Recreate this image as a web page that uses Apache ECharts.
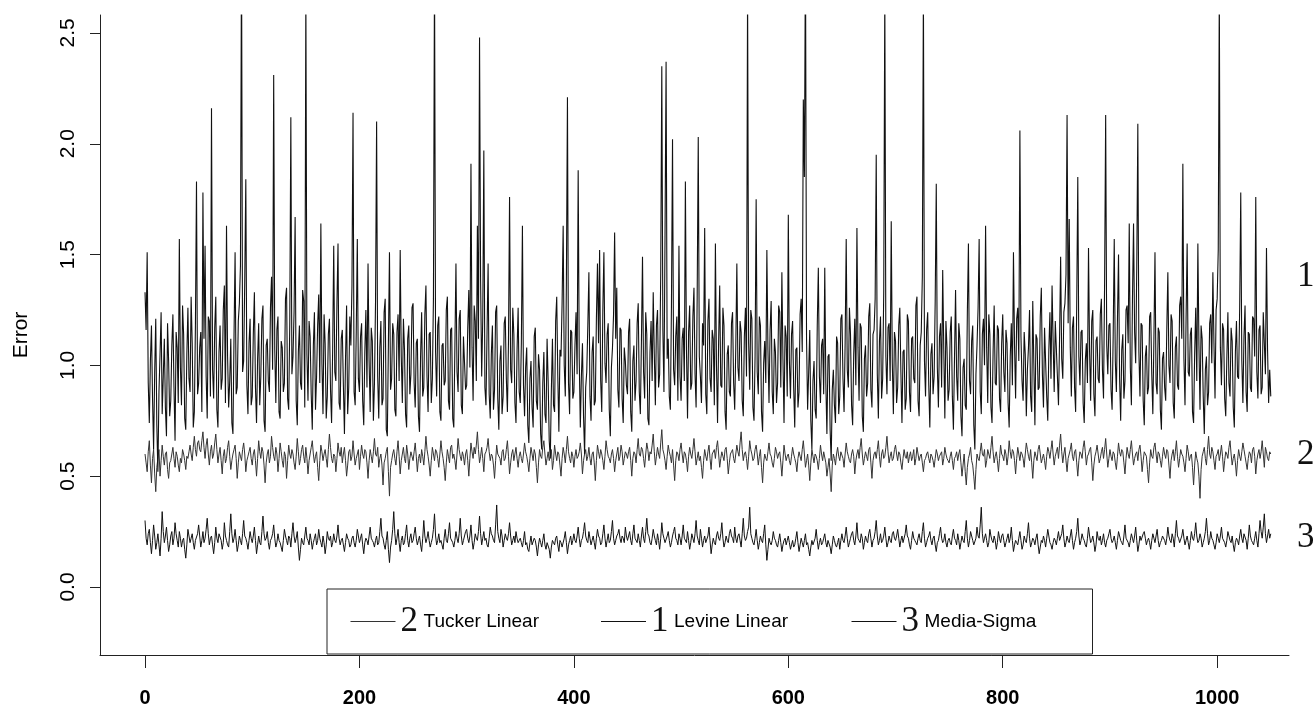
<!DOCTYPE html>
<html>
<head>
<meta charset="utf-8">
<script src="https://cdn.jsdelivr.net/npm/echarts@6/dist/echarts.min.js"></script>
<style>
html,body{margin:0;padding:0;background:#fff;}
#chart{width:1313px;height:708px;}
</style>
</head>
<body>
<div id="chart"></div>
<script>
// x positions: one observation per unit, starting at 0
const X_STEP = 1;
const xTicks = [0, 200, 400, 600, 800, 1000];
const yTicks = [0, 0.5, 1, 1.5, 2, 2.5];
const seriesNames = ['Tucker Linear', 'Levine Linear', 'Media-Sigma'];
const seriesNums = {'Tucker Linear': '2', 'Levine Linear': '1', 'Media-Sigma': '3'};

const levine = [
1.33,1.16,1.51,0.92,0.74,1.02,1.18,0.85,0.62,0.97,1.21,0.73,0.52,0.88,1.05,1.24,0.78,0.95,1.12,0.81,0.68,1.19,1.02,0.77,0.84,1.09,1.23,0.90,0.66,1.15,1.08,0.83,1.57,0.99,0.82,1.27,1.14,0.76,0.71,1.05,1.26,0.94,0.88,1.31,1.10,0.72,0.79,1.18,1.83,0.87,
0.92,1.08,1.15,0.79,1.78,1.12,1.54,0.95,0.76,1.22,1.20,0.86,2.16,0.98,0.85,1.17,1.31,0.80,0.72,1.06,1.18,0.89,0.94,1.25,1.36,0.83,1.63,1.04,0.81,0.93,1.12,0.74,0.69,1.13,1.51,0.87,0.90,1.20,1.28,1.45,2.90,0.97,1.02,1.38,1.84,0.91,0.78,1.10,1.21,0.82,
0.86,1.14,1.33,0.90,0.74,1.03,1.19,0.82,0.95,1.21,1.27,0.75,0.70,1.09,1.12,0.93,0.88,1.26,1.40,0.98,2.31,1.07,0.83,1.16,1.22,0.79,0.76,1.11,1.08,0.88,0.92,1.30,1.35,0.85,0.80,1.19,2.12,0.96,1.04,1.24,1.67,0.84,0.73,1.06,1.18,0.92,0.89,1.34,1.29,0.81,
2.70,1.05,0.84,1.20,1.13,0.87,0.71,1.09,1.24,0.80,0.95,1.18,1.32,0.92,1.64,1.01,0.78,1.23,1.10,0.76,0.86,1.14,1.21,0.89,0.74,1.07,1.54,0.97,0.93,1.28,1.55,0.83,0.80,1.12,1.16,0.91,0.69,1.03,1.27,0.78,0.90,1.22,1.09,1.36,2.14,0.88,0.82,1.15,1.57,0.94,
0.88,1.13,1.19,0.84,0.73,1.06,1.25,0.90,1.46,1.02,0.79,1.17,1.11,0.75,0.92,1.29,2.10,0.95,0.76,1.08,1.20,0.82,0.85,1.24,1.30,0.71,0.68,1.10,1.51,0.89,0.94,1.19,1.14,0.80,0.77,1.15,1.23,0.93,1.52,1.04,0.83,1.21,1.07,0.78,0.72,1.12,1.18,0.87,0.96,1.26,
1.28,0.92,0.81,1.10,1.12,0.77,0.70,1.04,1.24,0.86,0.90,1.23,1.36,0.95,0.79,1.14,1.15,0.83,0.94,1.30,2.80,1.06,0.86,1.18,1.22,0.79,0.75,1.09,1.10,0.91,0.93,1.25,1.31,0.84,0.80,1.16,1.17,0.76,0.72,1.08,1.46,0.97,0.88,1.21,1.25,0.82,0.78,1.13,1.13,0.89,
0.91,1.17,1.34,0.99,1.91,1.08,0.84,1.27,1.20,0.93,1.63,1.12,2.48,1.38,0.95,1.21,1.97,0.90,0.82,1.15,1.46,0.87,0.76,1.05,1.18,0.80,0.89,1.24,1.27,0.85,0.71,1.02,1.09,0.78,0.86,1.19,1.22,0.94,0.79,1.11,1.76,0.98,0.92,1.26,1.14,0.83,0.74,1.07,1.26,0.88,
0.83,1.10,1.63,0.91,0.77,0.99,1.08,0.73,0.65,0.94,1.02,0.81,0.72,1.13,1.17,0.84,0.80,1.05,0.98,0.69,0.62,0.92,1.06,0.78,0.74,1.12,0.93,0.66,0.58,0.89,1.12,0.82,0.79,1.20,1.31,0.95,0.70,1.07,1.04,1.28,1.63,1.00,0.86,1.37,2.21,0.92,0.78,1.16,1.15,0.85,
0.88,1.09,1.24,0.96,1.88,1.03,0.72,0.95,1.10,0.77,0.60,0.90,0.97,1.18,1.42,0.86,0.75,1.06,1.13,0.82,0.84,1.21,1.46,1.10,1.52,0.93,0.79,1.25,1.51,1.01,0.92,1.14,1.19,0.80,0.68,0.99,1.08,1.23,1.60,1.12,1.35,0.89,0.81,1.17,1.16,0.85,0.74,1.08,1.02,0.91,
0.87,1.15,1.21,0.79,0.70,1.02,1.09,0.84,0.93,1.19,1.28,0.88,0.78,1.11,1.49,0.97,0.85,1.24,1.14,0.76,0.73,1.06,1.20,0.93,1.33,1.05,0.82,1.18,1.25,0.90,0.96,1.42,2.35,1.16,0.88,1.58,2.37,1.03,1.12,0.86,0.80,1.27,2.02,0.98,0.91,1.13,1.22,0.84,1.54,0.95,
0.84,1.12,1.17,0.93,1.83,1.07,0.76,1.15,1.27,0.89,0.92,1.22,1.35,0.96,0.81,1.31,2.03,1.04,0.95,0.83,1.19,1.09,1.62,0.87,0.78,1.20,1.30,0.94,0.88,1.16,1.12,0.82,1.55,1.00,0.74,1.11,1.36,0.91,0.90,1.26,1.18,0.79,0.71,1.05,1.09,0.88,0.86,1.19,1.24,0.92,
0.80,1.08,1.46,0.99,0.93,1.20,1.15,0.84,0.77,1.13,1.26,0.95,2.70,1.10,0.89,1.25,1.21,0.81,0.75,1.04,1.75,0.97,0.87,1.22,1.18,0.79,0.70,1.01,1.11,0.92,1.52,1.07,0.83,1.16,1.29,0.88,0.78,1.12,1.06,0.83,0.92,1.27,1.24,0.90,1.42,1.03,0.74,1.18,1.13,0.86,
1.68,1.02,0.85,1.14,1.20,0.90,0.72,1.07,1.08,0.81,0.88,1.23,1.30,1.06,2.20,1.85,2.90,1.12,0.80,0.97,1.16,0.75,0.62,0.93,1.02,0.80,0.76,1.18,1.44,0.95,0.83,1.09,1.12,0.87,1.44,0.92,0.69,1.04,1.05,0.71,0.57,0.89,0.98,0.82,0.74,1.13,1.10,0.78,0.86,1.21,
1.23,0.94,0.79,1.10,1.57,0.98,0.90,1.26,1.14,0.82,0.73,1.05,1.21,0.91,1.62,1.08,0.84,1.19,1.17,0.77,0.70,1.03,1.09,0.86,0.92,1.22,1.28,0.89,0.81,1.14,1.16,1.30,1.95,0.96,0.76,1.11,1.22,0.85,0.94,1.33,2.70,1.04,0.87,1.17,1.19,0.93,1.65,1.01,0.78,1.15,
1.11,0.83,0.90,1.18,1.26,0.97,0.74,1.06,1.07,0.80,0.85,1.23,1.20,0.88,0.79,1.12,1.13,0.94,0.92,1.27,1.31,0.84,0.77,1.09,1.15,1.40,2.70,1.02,0.86,1.16,1.24,0.91,0.72,1.05,1.10,0.87,0.95,1.29,1.82,0.99,0.81,1.13,1.19,0.90,1.43,1.07,0.76,1.20,1.08,0.84,
0.89,1.15,1.22,0.86,0.71,1.03,1.34,0.95,0.84,1.19,1.12,0.77,0.68,0.99,1.03,0.82,0.80,1.24,1.55,0.93,0.87,1.11,1.18,0.73,0.62,0.96,1.09,1.26,1.57,0.88,0.78,1.14,1.21,1.00,1.63,1.08,0.83,1.23,1.14,0.81,0.74,1.06,1.27,0.92,0.91,1.18,1.16,0.85,0.79,1.10,
1.23,0.97,0.88,1.16,1.10,0.83,0.72,1.04,1.19,0.91,1.51,1.09,0.85,1.21,1.26,1.02,2.06,1.13,0.93,0.84,1.15,1.05,0.77,0.98,1.08,1.25,0.86,0.79,1.29,1.01,0.73,1.14,1.12,0.89,0.90,1.22,1.35,0.96,0.81,1.17,1.17,0.86,0.75,1.07,1.24,0.94,1.36,1.11,0.88,1.20,
1.20,0.95,0.82,1.12,1.49,1.03,0.94,1.24,1.28,1.41,2.13,1.19,1.66,1.08,0.86,1.17,1.22,0.90,0.79,1.28,1.85,1.04,0.91,1.15,1.16,0.83,0.74,1.02,1.10,0.92,1.53,1.06,0.84,1.20,1.25,0.87,0.77,1.11,1.13,0.94,0.92,1.23,1.30,0.98,0.85,1.37,2.13,1.09,0.96,1.18,
1.19,0.89,0.80,1.13,1.57,1.02,0.88,1.21,1.50,0.94,0.75,1.07,1.14,0.85,0.93,1.25,1.27,1.10,1.64,0.99,0.82,1.30,1.64,1.15,1.01,1.44,2.09,1.06,0.86,1.19,1.18,0.84,0.73,1.04,1.09,0.87,0.90,1.22,1.24,0.96,0.78,1.12,1.51,0.92,0.87,1.17,1.15,0.80,0.71,1.03,
1.06,0.90,0.84,1.16,1.42,1.00,0.92,1.23,1.20,0.83,0.76,1.08,1.13,0.91,0.89,1.27,1.31,1.12,1.91,1.03,0.82,1.21,1.55,0.97,0.95,1.14,1.17,0.79,0.74,1.05,1.26,0.93,1.55,1.09,0.80,1.18,1.12,0.86,0.69,0.98,1.04,0.82,0.88,1.19,1.23,1.01,1.42,1.10,0.85,1.25,
1.30,1.52,2.70,1.08,0.91,1.19,1.16,0.85,0.77,1.03,1.24,0.92,0.86,1.17,1.11,0.81,0.72,1.06,1.20,0.95,0.94,1.26,1.78,1.02,0.83,1.13,1.27,0.88,0.79,1.15,1.14,0.90,0.88,1.22,1.21,1.04,1.76,0.97,0.85,1.16,1.18,0.87,0.90,1.24,1.10,0.96,1.53,1.07,0.83,0.98,
0.86
];

const tucker = [
0.60,0.56,0.52,0.61,0.66,0.55,0.47,0.58,0.62,0.51,0.43,0.54,0.58,0.62,0.50,0.57,0.64,0.59,0.55,0.60,0.61,0.53,0.49,0.56,0.57,0.60,0.63,0.58,0.54,0.61,0.59,0.55,0.52,0.58,0.56,0.62,0.60,0.57,0.53,0.59,0.58,0.61,0.64,0.60,0.57,0.63,0.68,0.62,0.59,0.65,
0.66,0.62,0.61,0.66,0.70,0.63,0.58,0.64,0.67,0.60,0.55,0.61,0.64,0.58,0.60,0.65,0.69,0.62,0.56,0.60,0.63,0.57,0.51,0.59,0.62,0.56,0.58,0.63,0.66,0.59,0.53,0.57,0.60,0.62,0.64,0.58,0.49,0.56,0.61,0.59,0.57,0.62,0.65,0.60,0.52,0.57,0.59,0.61,0.63,0.58,
0.55,0.60,0.62,0.57,0.50,0.58,0.66,0.61,0.58,0.63,0.61,0.55,0.47,0.56,0.60,0.62,0.56,0.59,0.68,0.63,0.59,0.57,0.63,0.60,0.52,0.58,0.65,0.61,0.57,0.54,0.61,0.59,0.49,0.57,0.64,0.60,0.58,0.62,0.60,0.56,0.53,0.59,0.67,0.61,0.55,0.58,0.62,0.64,0.59,0.56,
0.63,0.58,0.51,0.57,0.60,0.63,0.66,0.60,0.56,0.59,0.61,0.54,0.48,0.57,0.64,0.61,0.57,0.60,0.62,0.58,0.54,0.62,0.69,0.63,0.58,0.56,0.60,0.59,0.52,0.58,0.65,0.61,0.59,0.63,0.56,0.60,0.63,0.57,0.50,0.55,0.61,0.62,0.57,0.59,0.66,0.60,0.55,0.58,0.60,0.62,
0.53,0.59,0.64,0.60,0.58,0.62,0.61,0.56,0.49,0.57,0.62,0.59,0.56,0.61,0.67,0.60,0.59,0.63,0.54,0.58,0.60,0.55,0.46,0.56,0.58,0.61,0.63,0.52,0.41,0.54,0.57,0.60,0.62,0.58,0.55,0.61,0.66,0.59,0.51,0.57,0.60,0.63,0.58,0.56,0.64,0.60,0.53,0.58,0.61,0.59,
0.57,0.61,0.65,0.59,0.52,0.58,0.60,0.56,0.62,0.59,0.55,0.61,0.68,0.62,0.59,0.55,0.50,0.57,0.63,0.60,0.57,0.62,0.61,0.58,0.54,0.60,0.66,0.61,0.58,0.54,0.48,0.56,0.62,0.59,0.56,0.63,0.64,0.58,0.60,0.57,0.53,0.60,0.67,0.62,0.59,0.57,0.61,0.59,0.55,0.60,
0.62,0.57,0.50,0.58,0.65,0.61,0.58,0.63,0.60,0.64,0.70,0.62,0.56,0.59,0.63,0.58,0.52,0.60,0.61,0.63,0.67,0.61,0.57,0.60,0.59,0.55,0.49,0.57,0.64,0.60,0.60,0.58,0.55,0.61,0.62,0.57,0.58,0.62,0.66,0.59,0.51,0.56,0.60,0.62,0.57,0.60,0.63,0.58,0.54,0.59,
0.61,0.58,0.56,0.60,0.65,0.61,0.59,0.56,0.52,0.58,0.63,0.60,0.57,0.62,0.60,0.54,0.47,0.56,0.62,0.59,0.58,0.63,0.66,0.60,0.55,0.58,0.61,0.57,0.59,0.62,0.53,0.57,0.64,0.60,0.57,0.61,0.60,0.55,0.50,0.58,0.63,0.60,0.56,0.62,0.68,0.61,0.58,0.56,0.61,0.59,
0.54,0.59,0.62,0.58,0.59,0.61,0.65,0.60,0.51,0.57,0.60,0.62,0.57,0.59,0.63,0.58,0.55,0.60,0.61,0.56,0.48,0.57,0.64,0.61,0.58,0.62,0.60,0.57,0.53,0.59,0.66,0.62,0.59,0.58,0.56,0.60,0.62,0.58,0.52,0.57,0.60,0.63,0.57,0.59,0.64,0.61,0.55,0.58,0.61,0.60,
0.58,0.61,0.63,0.57,0.50,0.58,0.61,0.60,0.56,0.62,0.67,0.60,0.59,0.63,0.62,0.58,0.54,0.60,0.65,0.62,0.57,0.61,0.60,0.64,0.69,0.61,0.55,0.59,0.63,0.60,0.58,0.65,0.71,0.62,0.60,0.57,0.53,0.59,0.64,0.61,0.59,0.56,0.62,0.55,0.48,0.57,0.61,0.60,0.57,0.62,
0.65,0.60,0.56,0.61,0.60,0.57,0.52,0.59,0.63,0.60,0.58,0.62,0.67,0.61,0.55,0.58,0.61,0.57,0.59,0.54,0.49,0.57,0.62,0.59,0.57,0.61,0.64,0.58,0.53,0.60,0.60,0.62,0.58,0.63,0.66,0.60,0.54,0.58,0.61,0.59,0.57,0.62,0.63,0.58,0.51,0.56,0.60,0.61,0.62,0.58,
0.56,0.60,0.64,0.61,0.59,0.65,0.70,0.62,0.57,0.60,0.61,0.58,0.53,0.59,0.66,0.62,0.60,0.57,0.58,0.62,0.64,0.60,0.55,0.59,0.62,0.54,0.47,0.56,0.60,0.58,0.57,0.61,0.65,0.60,0.59,0.56,0.54,0.58,0.63,0.61,0.58,0.60,0.61,0.56,0.50,0.57,0.64,0.60,0.57,0.59,
0.60,0.57,0.55,0.59,0.63,0.60,0.58,0.56,0.52,0.58,0.61,0.59,0.57,0.62,0.66,0.60,0.54,0.57,0.60,0.55,0.48,0.56,0.62,0.59,0.56,0.60,0.59,0.57,0.53,0.58,0.64,0.60,0.57,0.61,0.61,0.56,0.50,0.54,0.58,0.51,0.43,0.55,0.60,0.58,0.55,0.60,0.63,0.59,0.57,0.61,
0.61,0.58,0.54,0.60,0.65,0.61,0.59,0.57,0.56,0.60,0.62,0.59,0.51,0.57,0.60,0.62,0.58,0.63,0.67,0.60,0.55,0.58,0.61,0.59,0.57,0.62,0.63,0.56,0.49,0.57,0.60,0.61,0.58,0.62,0.66,0.59,0.54,0.60,0.62,0.58,0.59,0.63,0.68,0.61,0.56,0.59,0.61,0.57,0.58,0.62,
0.64,0.60,0.57,0.61,0.60,0.56,0.53,0.58,0.62,0.59,0.58,0.61,0.56,0.59,0.61,0.57,0.59,0.62,0.55,0.58,0.63,0.60,0.57,0.59,0.60,0.56,0.52,0.57,0.58,0.60,0.61,0.58,0.56,0.60,0.59,0.57,0.54,0.58,0.62,0.60,0.57,0.59,0.60,0.61,0.55,0.58,0.63,0.60,0.58,0.57,
0.56,0.59,0.61,0.57,0.53,0.58,0.59,0.61,0.57,0.60,0.62,0.56,0.50,0.55,0.60,0.52,0.46,0.54,0.58,0.60,0.63,0.57,0.55,0.50,0.44,0.53,0.60,0.58,0.57,0.61,0.65,0.60,0.59,0.62,0.54,0.57,0.62,0.60,0.58,0.63,0.68,0.61,0.56,0.59,0.61,0.57,0.52,0.58,0.64,0.60,
0.59,0.57,0.62,0.60,0.55,0.59,0.66,0.61,0.58,0.62,0.61,0.57,0.51,0.58,0.63,0.60,0.57,0.61,0.60,0.58,0.54,0.60,0.65,0.62,0.59,0.57,0.62,0.56,0.49,0.57,0.61,0.59,0.57,0.62,0.64,0.60,0.56,0.58,0.60,0.57,0.53,0.59,0.63,0.61,0.58,0.62,0.66,0.60,0.55,0.59,
0.61,0.63,0.58,0.64,0.69,0.61,0.56,0.60,0.63,0.57,0.52,0.58,0.60,0.62,0.65,0.59,0.57,0.61,0.62,0.56,0.50,0.57,0.61,0.60,0.58,0.63,0.66,0.61,0.55,0.59,0.60,0.62,0.63,0.56,0.48,0.55,0.59,0.61,0.64,0.60,0.56,0.58,0.61,0.63,0.58,0.62,0.67,0.60,0.54,0.58,
0.62,0.59,0.57,0.61,0.60,0.56,0.53,0.59,0.65,0.61,0.59,0.62,0.61,0.56,0.51,0.58,0.63,0.60,0.58,0.62,0.66,0.60,0.55,0.58,0.60,0.61,0.57,0.62,0.64,0.59,0.52,0.57,0.61,0.60,0.59,0.53,0.47,0.56,0.62,0.59,0.58,0.63,0.65,0.60,0.56,0.61,0.60,0.57,0.54,0.59,
0.63,0.60,0.58,0.62,0.61,0.55,0.49,0.57,0.60,0.62,0.57,0.61,0.66,0.59,0.54,0.58,0.62,0.60,0.59,0.56,0.52,0.58,0.64,0.61,0.57,0.59,0.60,0.54,0.46,0.55,0.61,0.58,0.56,0.50,0.40,0.53,0.59,0.61,0.63,0.58,0.55,0.62,0.68,0.60,0.58,0.63,0.61,0.57,0.53,0.59,
0.60,0.62,0.57,0.60,0.64,0.59,0.52,0.57,0.61,0.60,0.58,0.63,0.66,0.60,0.55,0.58,0.60,0.56,0.50,0.57,0.62,0.59,0.57,0.61,0.65,0.62,0.59,0.56,0.53,0.58,0.61,0.60,0.56,0.62,0.63,0.59,0.51,0.57,0.60,0.62,0.58,0.61,0.66,0.60,0.54,0.63,0.61,0.58,0.57,0.61,
0.60
];

const mediaSigma = [
0.30,0.22,0.19,0.24,0.26,0.20,0.15,0.21,0.28,0.23,0.17,0.20,0.24,0.19,0.14,0.22,0.34,0.25,0.20,0.23,0.27,0.21,0.16,0.19,0.23,0.25,0.19,0.22,0.29,0.24,0.21,0.18,0.25,0.22,0.18,0.21,0.22,0.17,0.13,0.19,0.26,0.23,0.20,0.22,0.24,0.20,0.17,0.21,0.21,0.24,
0.28,0.23,0.18,0.21,0.25,0.20,0.22,0.26,0.31,0.24,0.19,0.22,0.23,0.19,0.15,0.20,0.27,0.22,0.20,0.24,0.24,0.21,0.17,0.20,0.29,0.23,0.21,0.19,0.18,0.25,0.33,0.24,0.20,0.22,0.26,0.21,0.16,0.19,0.23,0.21,0.19,0.24,0.30,0.23,0.22,0.20,0.17,0.21,0.25,0.22,
0.20,0.23,0.27,0.21,0.15,0.19,0.23,0.20,0.19,0.25,0.32,0.24,0.21,0.22,0.25,0.20,0.17,0.21,0.22,0.24,0.28,0.22,0.18,0.20,0.24,0.21,0.20,0.18,0.16,0.21,0.26,0.23,0.21,0.19,0.23,0.22,0.18,0.24,0.29,0.23,0.20,0.22,0.25,0.18,0.12,0.17,0.22,0.20,0.19,0.23,
0.27,0.22,0.21,0.19,0.24,0.21,0.17,0.20,0.22,0.24,0.19,0.21,0.26,0.22,0.20,0.18,0.23,0.20,0.15,0.19,0.25,0.22,0.21,0.23,0.18,0.20,0.24,0.21,0.20,0.23,0.28,0.22,0.19,0.21,0.22,0.19,0.16,0.20,0.24,0.22,0.21,0.18,0.19,0.22,0.23,0.20,0.18,0.21,0.26,0.23,
0.20,0.22,0.24,0.19,0.15,0.20,0.22,0.21,0.19,0.23,0.27,0.22,0.21,0.20,0.18,0.21,0.23,0.19,0.20,0.25,0.31,0.23,0.22,0.19,0.17,0.21,0.25,0.17,0.11,0.18,0.21,0.26,0.34,0.24,0.19,0.22,0.26,0.20,0.16,0.21,0.23,0.19,0.20,0.24,0.28,0.21,0.18,0.22,0.24,0.20,
0.21,0.24,0.27,0.22,0.19,0.21,0.23,0.19,0.16,0.22,0.30,0.23,0.20,0.22,0.25,0.21,0.18,0.20,0.22,0.26,0.33,0.23,0.19,0.21,0.24,0.20,0.21,0.19,0.17,0.22,0.26,0.21,0.20,0.24,0.29,0.22,0.22,0.20,0.18,0.21,0.25,0.22,0.20,0.24,0.31,0.23,0.19,0.21,0.23,0.25,
0.26,0.22,0.20,0.23,0.28,0.21,0.17,0.20,0.24,0.22,0.21,0.25,0.32,0.24,0.19,0.22,0.25,0.21,0.22,0.19,0.18,0.22,0.27,0.24,0.23,0.21,0.20,0.28,0.37,0.25,0.22,0.20,0.26,0.23,0.18,0.21,0.24,0.22,0.21,0.24,0.29,0.23,0.19,0.21,0.23,0.20,0.25,0.22,0.20,0.21,
0.22,0.20,0.18,0.21,0.25,0.19,0.20,0.17,0.16,0.20,0.23,0.19,0.19,0.22,0.21,0.18,0.14,0.19,0.22,0.20,0.18,0.21,0.24,0.19,0.17,0.20,0.20,0.17,0.13,0.18,0.21,0.20,0.19,0.22,0.23,0.19,0.16,0.21,0.20,0.18,0.18,0.22,0.25,0.20,0.15,0.19,0.21,0.23,0.19,0.21,
0.24,0.21,0.20,0.23,0.27,0.22,0.18,0.21,0.22,0.25,0.29,0.23,0.21,0.20,0.25,0.22,0.19,0.21,0.23,0.20,0.17,0.22,0.26,0.23,0.22,0.19,0.20,0.24,0.28,0.22,0.18,0.21,0.24,0.20,0.21,0.25,0.30,0.22,0.19,0.21,0.23,0.24,0.26,0.22,0.20,0.23,0.22,0.20,0.27,0.23,
0.21,0.23,0.25,0.21,0.19,0.24,0.28,0.22,0.22,0.20,0.24,0.21,0.18,0.23,0.27,0.22,0.20,0.25,0.31,0.24,0.23,0.20,0.19,0.22,0.26,0.23,0.21,0.19,0.24,0.21,0.17,0.22,0.29,0.24,0.22,0.20,0.20,0.23,0.25,0.21,0.18,0.20,0.23,0.25,0.27,0.22,0.21,0.19,0.24,0.22,
0.19,0.23,0.28,0.22,0.22,0.20,0.25,0.21,0.17,0.20,0.24,0.22,0.20,0.24,0.30,0.23,0.21,0.19,0.26,0.22,0.18,0.21,0.23,0.20,0.20,0.23,0.27,0.21,0.15,0.19,0.22,0.20,0.19,0.23,0.25,0.22,0.21,0.24,0.29,0.22,0.18,0.20,0.23,0.21,0.20,0.24,0.26,0.23,0.22,0.20,
0.27,0.22,0.20,0.23,0.24,0.21,0.18,0.24,0.31,0.23,0.21,0.22,0.25,0.27,0.36,0.24,0.22,0.20,0.19,0.22,0.26,0.21,0.17,0.20,0.23,0.21,0.20,0.24,0.28,0.19,0.12,0.17,0.22,0.20,0.19,0.21,0.25,0.22,0.21,0.19,0.18,0.21,0.24,0.20,0.16,0.19,0.21,0.22,0.19,0.21,
0.23,0.20,0.17,0.19,0.21,0.18,0.19,0.22,0.25,0.20,0.16,0.19,0.22,0.20,0.18,0.21,0.24,0.19,0.20,0.17,0.14,0.18,0.21,0.19,0.19,0.22,0.26,0.21,0.17,0.20,0.22,0.19,0.20,0.22,0.24,0.20,0.18,0.21,0.21,0.18,0.15,0.19,0.23,0.21,0.19,0.18,0.20,0.22,0.17,0.21,
0.24,0.21,0.20,0.23,0.27,0.22,0.18,0.20,0.22,0.24,0.25,0.21,0.19,0.23,0.29,0.22,0.21,0.20,0.24,0.22,0.17,0.20,0.23,0.21,0.20,0.24,0.26,0.22,0.18,0.21,0.22,0.25,0.30,0.23,0.19,0.21,0.24,0.20,0.21,0.23,0.27,0.22,0.18,0.20,0.23,0.21,0.20,0.24,0.25,0.22,
0.21,0.23,0.26,0.22,0.18,0.21,0.23,0.20,0.20,0.24,0.28,0.23,0.22,0.19,0.17,0.21,0.25,0.22,0.21,0.20,0.19,0.22,0.24,0.21,0.20,0.25,0.29,0.22,0.18,0.20,0.22,0.23,0.25,0.21,0.19,0.22,0.23,0.19,0.16,0.20,0.21,0.24,0.27,0.22,0.20,0.21,0.24,0.20,0.18,0.21,
0.22,0.20,0.19,0.23,0.26,0.22,0.21,0.19,0.24,0.21,0.17,0.20,0.23,0.21,0.20,0.25,0.30,0.22,0.18,0.21,0.25,0.23,0.21,0.19,0.19,0.22,0.27,0.23,0.22,0.28,0.36,0.24,0.20,0.22,0.24,0.21,0.18,0.20,0.26,0.23,0.21,0.20,0.23,0.21,0.17,0.20,0.25,0.22,0.20,0.23,
0.24,0.21,0.18,0.20,0.22,0.24,0.20,0.22,0.27,0.21,0.16,0.19,0.21,0.20,0.19,0.22,0.25,0.21,0.17,0.19,0.23,0.21,0.20,0.24,0.29,0.22,0.18,0.20,0.22,0.21,0.19,0.22,0.24,0.19,0.15,0.18,0.21,0.20,0.23,0.21,0.18,0.22,0.26,0.23,0.20,0.19,0.17,0.20,0.22,0.21,
0.19,0.22,0.25,0.21,0.21,0.24,0.28,0.22,0.18,0.20,0.23,0.21,0.20,0.23,0.26,0.21,0.17,0.20,0.22,0.25,0.31,0.23,0.19,0.21,0.24,0.22,0.21,0.19,0.18,0.22,0.27,0.23,0.20,0.21,0.23,0.20,0.16,0.19,0.25,0.22,0.21,0.23,0.19,0.21,0.24,0.20,0.18,0.21,0.22,0.24,
0.26,0.22,0.20,0.21,0.23,0.20,0.17,0.21,0.25,0.23,0.21,0.20,0.19,0.23,0.28,0.22,0.22,0.20,0.18,0.21,0.24,0.22,0.20,0.23,0.27,0.21,0.16,0.19,0.23,0.21,0.21,0.24,0.25,0.22,0.19,0.21,0.22,0.20,0.17,0.21,0.24,0.22,0.20,0.23,0.26,0.21,0.18,0.20,0.21,0.23,
0.23,0.21,0.19,0.22,0.27,0.23,0.21,0.20,0.24,0.22,0.18,0.24,0.30,0.23,0.22,0.20,0.20,0.23,0.26,0.22,0.19,0.21,0.23,0.20,0.17,0.21,0.25,0.22,0.21,0.24,0.29,0.23,0.20,0.21,0.24,0.22,0.18,0.20,0.22,0.25,0.31,0.24,0.19,0.21,0.25,0.22,0.21,0.19,0.17,0.20,
0.24,0.22,0.20,0.23,0.27,0.22,0.22,0.20,0.18,0.21,0.25,0.23,0.21,0.20,0.23,0.19,0.16,0.20,0.22,0.21,0.19,0.23,0.26,0.22,0.20,0.24,0.24,0.21,0.17,0.22,0.28,0.23,0.21,0.20,0.19,0.22,0.25,0.21,0.18,0.24,0.30,0.25,0.22,0.27,0.33,0.24,0.20,0.23,0.26,0.22,
0.24
];

function pairs(vals) { return vals.map((v, i) => [i * X_STEP, v]); }

const narrow = "'Liberation Sans Narrow', 'Liberation Sans', Arial, sans-serif";
const serif = "'Liberation Serif', 'DejaVu Serif', serif";
const sans = "'Liberation Sans', Arial, sans-serif";

const chart = echarts.init(document.getElementById('chart'), null, {renderer: 'canvas'});
chart.setOption({
  animation: false,
  backgroundColor: '#ffffff',
  grid: {left: 100, right: 24, top: 15, bottom: 53, containLabel: false},
  xAxis: {
    type: 'value', min: -42, max: 1067,
    splitLine: {show: false},
    axisLine: {show: true, onZero: false, lineStyle: {color: '#222', width: 1}},
    axisTick: {show: true, customValues: xTicks, length: 13, lineStyle: {color: '#222', width: 1}},
    axisLabel: {customValues: xTicks, margin: 33, fontFamily: narrow, fontWeight: 'bold', fontSize: 20, color: '#000',
      formatter: v => String(v)}
  },
  yAxis: {
    type: 'value', min: -0.307, max: 2.581,
    name: 'Error', nameLocation: 'middle', nameGap: 68, nameRotate: 90,
    nameTextStyle: {fontFamily: sans, fontSize: 21, color: '#000'},
    splitLine: {show: false},
    axisLine: {show: true, onZero: false, lineStyle: {color: '#222', width: 1}},
    axisTick: {show: true, customValues: yTicks, length: 10, lineStyle: {color: '#222', width: 1}},
    axisLabel: {customValues: yTicks, rotate: 90, margin: 21, fontFamily: sans, fontSize: 21, color: '#000',
      formatter: v => v.toFixed(1)}
  },
  legend: {
    data: seriesNames,
    left: 327, top: 589,
    orient: 'horizontal',
    padding: [15, 46, 15, 23],
    itemGap: 55,
    itemWidth: 45, itemHeight: 14,
    itemStyle: {opacity: 0},
    lineStyle: {opacity: 1, width: 1},
    borderColor: '#222', borderWidth: 1, borderRadius: 0,
    backgroundColor: '#fff',
    formatter: name => '{n|' + seriesNums[name] + '}{t|' + name + '}',
    textStyle: {
      color: '#000',
      rich: {
        n: {fontFamily: serif, fontSize: 35, width: 23, color: '#111', lineHeight: 36},
        t: {fontFamily: narrow, fontSize: 19, width: 122, color: '#000', lineHeight: 36}
      }
    }
  },
  graphic: [
    {type: 'text', left: 1297, top: 259, style: {text: '1', font: '35px ' + serif, fill: '#111'}},
    {type: 'text', left: 1297, top: 437, style: {text: '2', font: '35px ' + serif, fill: '#111'}},
    {type: 'text', left: 1297, top: 520, style: {text: '3', font: '35px ' + serif, fill: '#111'}}
  ],
  series: [
    {name: 'Tucker Linear', type: 'line', data: pairs(tucker), symbol: 'none', clip: true, sampling: null,
      lineStyle: {color: '#333', width: 1}, itemStyle: {color: '#333', opacity: 0}},
    {name: 'Levine Linear', type: 'line', data: pairs(levine), symbol: 'none', clip: true, sampling: null,
      lineStyle: {color: '#111', width: 1.1}, itemStyle: {color: '#111', opacity: 0}},
    {name: 'Media-Sigma', type: 'line', data: pairs(mediaSigma), symbol: 'none', clip: true, sampling: null,
      lineStyle: {color: '#111', width: 1}, itemStyle: {color: '#111', opacity: 0}}
  ]
});
</script>
</body>
</html>
